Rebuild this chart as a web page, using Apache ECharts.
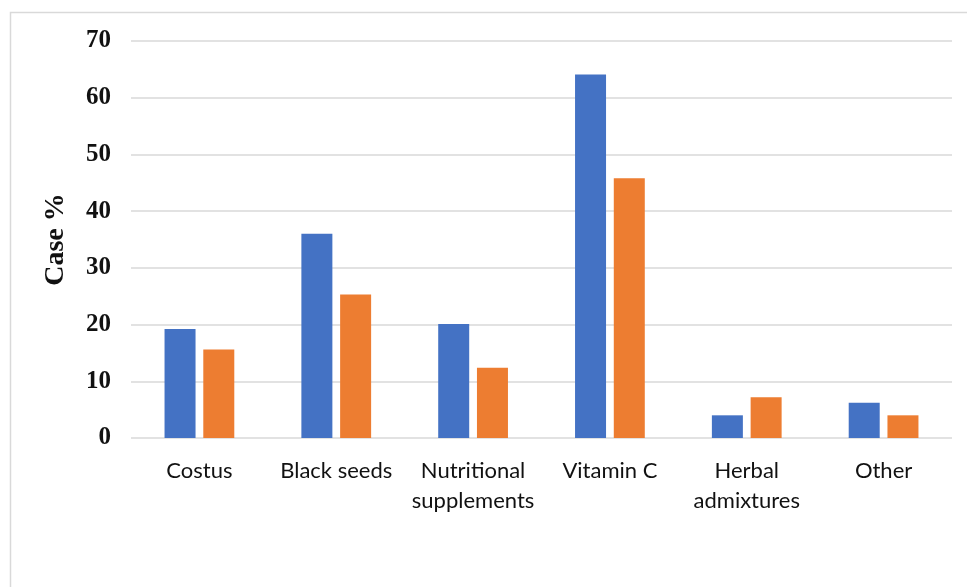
<!DOCTYPE html>
<html>
<head>
<meta charset="utf-8">
<title>Case %</title>
<script src="https://cdn.jsdelivr.net/npm/echarts@6/dist/echarts.min.js"></script>
<style>
  html, body { margin: 0; padding: 0; background: #ffffff; }
  #chart { width: 967px; height: 587px; }
</style>
</head>
<body>
<div id="chart"></div>
<script>
// Product categories (two-line labels wrap where the axis text wraps)
const categories = [
  'Costus',
  'Black seeds',
  'Nutritional\nsupplements',
  'Vitamin C',
  'Herbal\nadmixtures',
  'Other'
];

// Case percentages for the two groups
const seriesBlue = [19.2, 36.0, 20.1, 64.1, 4.0, 6.2];
const seriesOrange = [15.6, 25.3, 12.4, 45.8, 7.2, 4.0];

// Value axis ticks
const yTicks = [0, 10, 20, 30, 40, 50, 60, 70];

const chart = echarts.init(document.getElementById('chart'), null, { renderer: 'canvas' });

chart.setOption({
  backgroundColor: '#ffffff',
  animation: false,
  graphic: [{
    type: 'rect',
    shape: { x: 10.5, y: 12.5, width: 980, height: 600 },
    style: { fill: 'none', stroke: '#d9d9d9', lineWidth: 1.5 },
    silent: true,
    z: -1
  }],
  grid: { left: 131, right: 15, top: 41, bottom: 149, containLabel: false },
  xAxis: {
    type: 'category',
    data: categories,
    axisLine: { show: false },
    axisTick: { show: false },
    axisLabel: {
      interval: 0,
      margin: 18,
      fontFamily: 'Lato, "Open Sans", sans-serif',
      fontSize: 22,
      lineHeight: 30,
      color: '#111111'
    }
  },
  yAxis: {
    type: 'value',
    min: yTicks[0],
    max: yTicks[yTicks.length - 1],
    interval: 10,
    name: 'Case %',
    nameLocation: 'middle',
    nameGap: 61,
    nameRotate: 90,
    nameTextStyle: {
      fontFamily: '"Liberation Serif", "Times New Roman", serif',
      fontWeight: 'bold',
      fontSize: 28,
      color: '#111111'
    },
    axisLine: { show: false },
    axisTick: { show: false },
    axisLabel: {
      margin: 20,
      fontFamily: '"Liberation Serif", "Times New Roman", serif',
      fontWeight: 'bold',
      fontSize: 25,
      color: '#111111'
    },
    splitLine: { lineStyle: { color: '#d9d9d9', width: 1.5 } }
  },
  series: [
    {
      type: 'bar',
      data: seriesBlue,
      barWidth: 31,
      barGap: '25%',
      itemStyle: { color: '#4472C4' }
    },
    {
      type: 'bar',
      data: seriesOrange,
      barWidth: 31,
      barGap: '25%',
      itemStyle: { color: '#ED7D31' }
    }
  ]
});
</script>
</body>
</html>
